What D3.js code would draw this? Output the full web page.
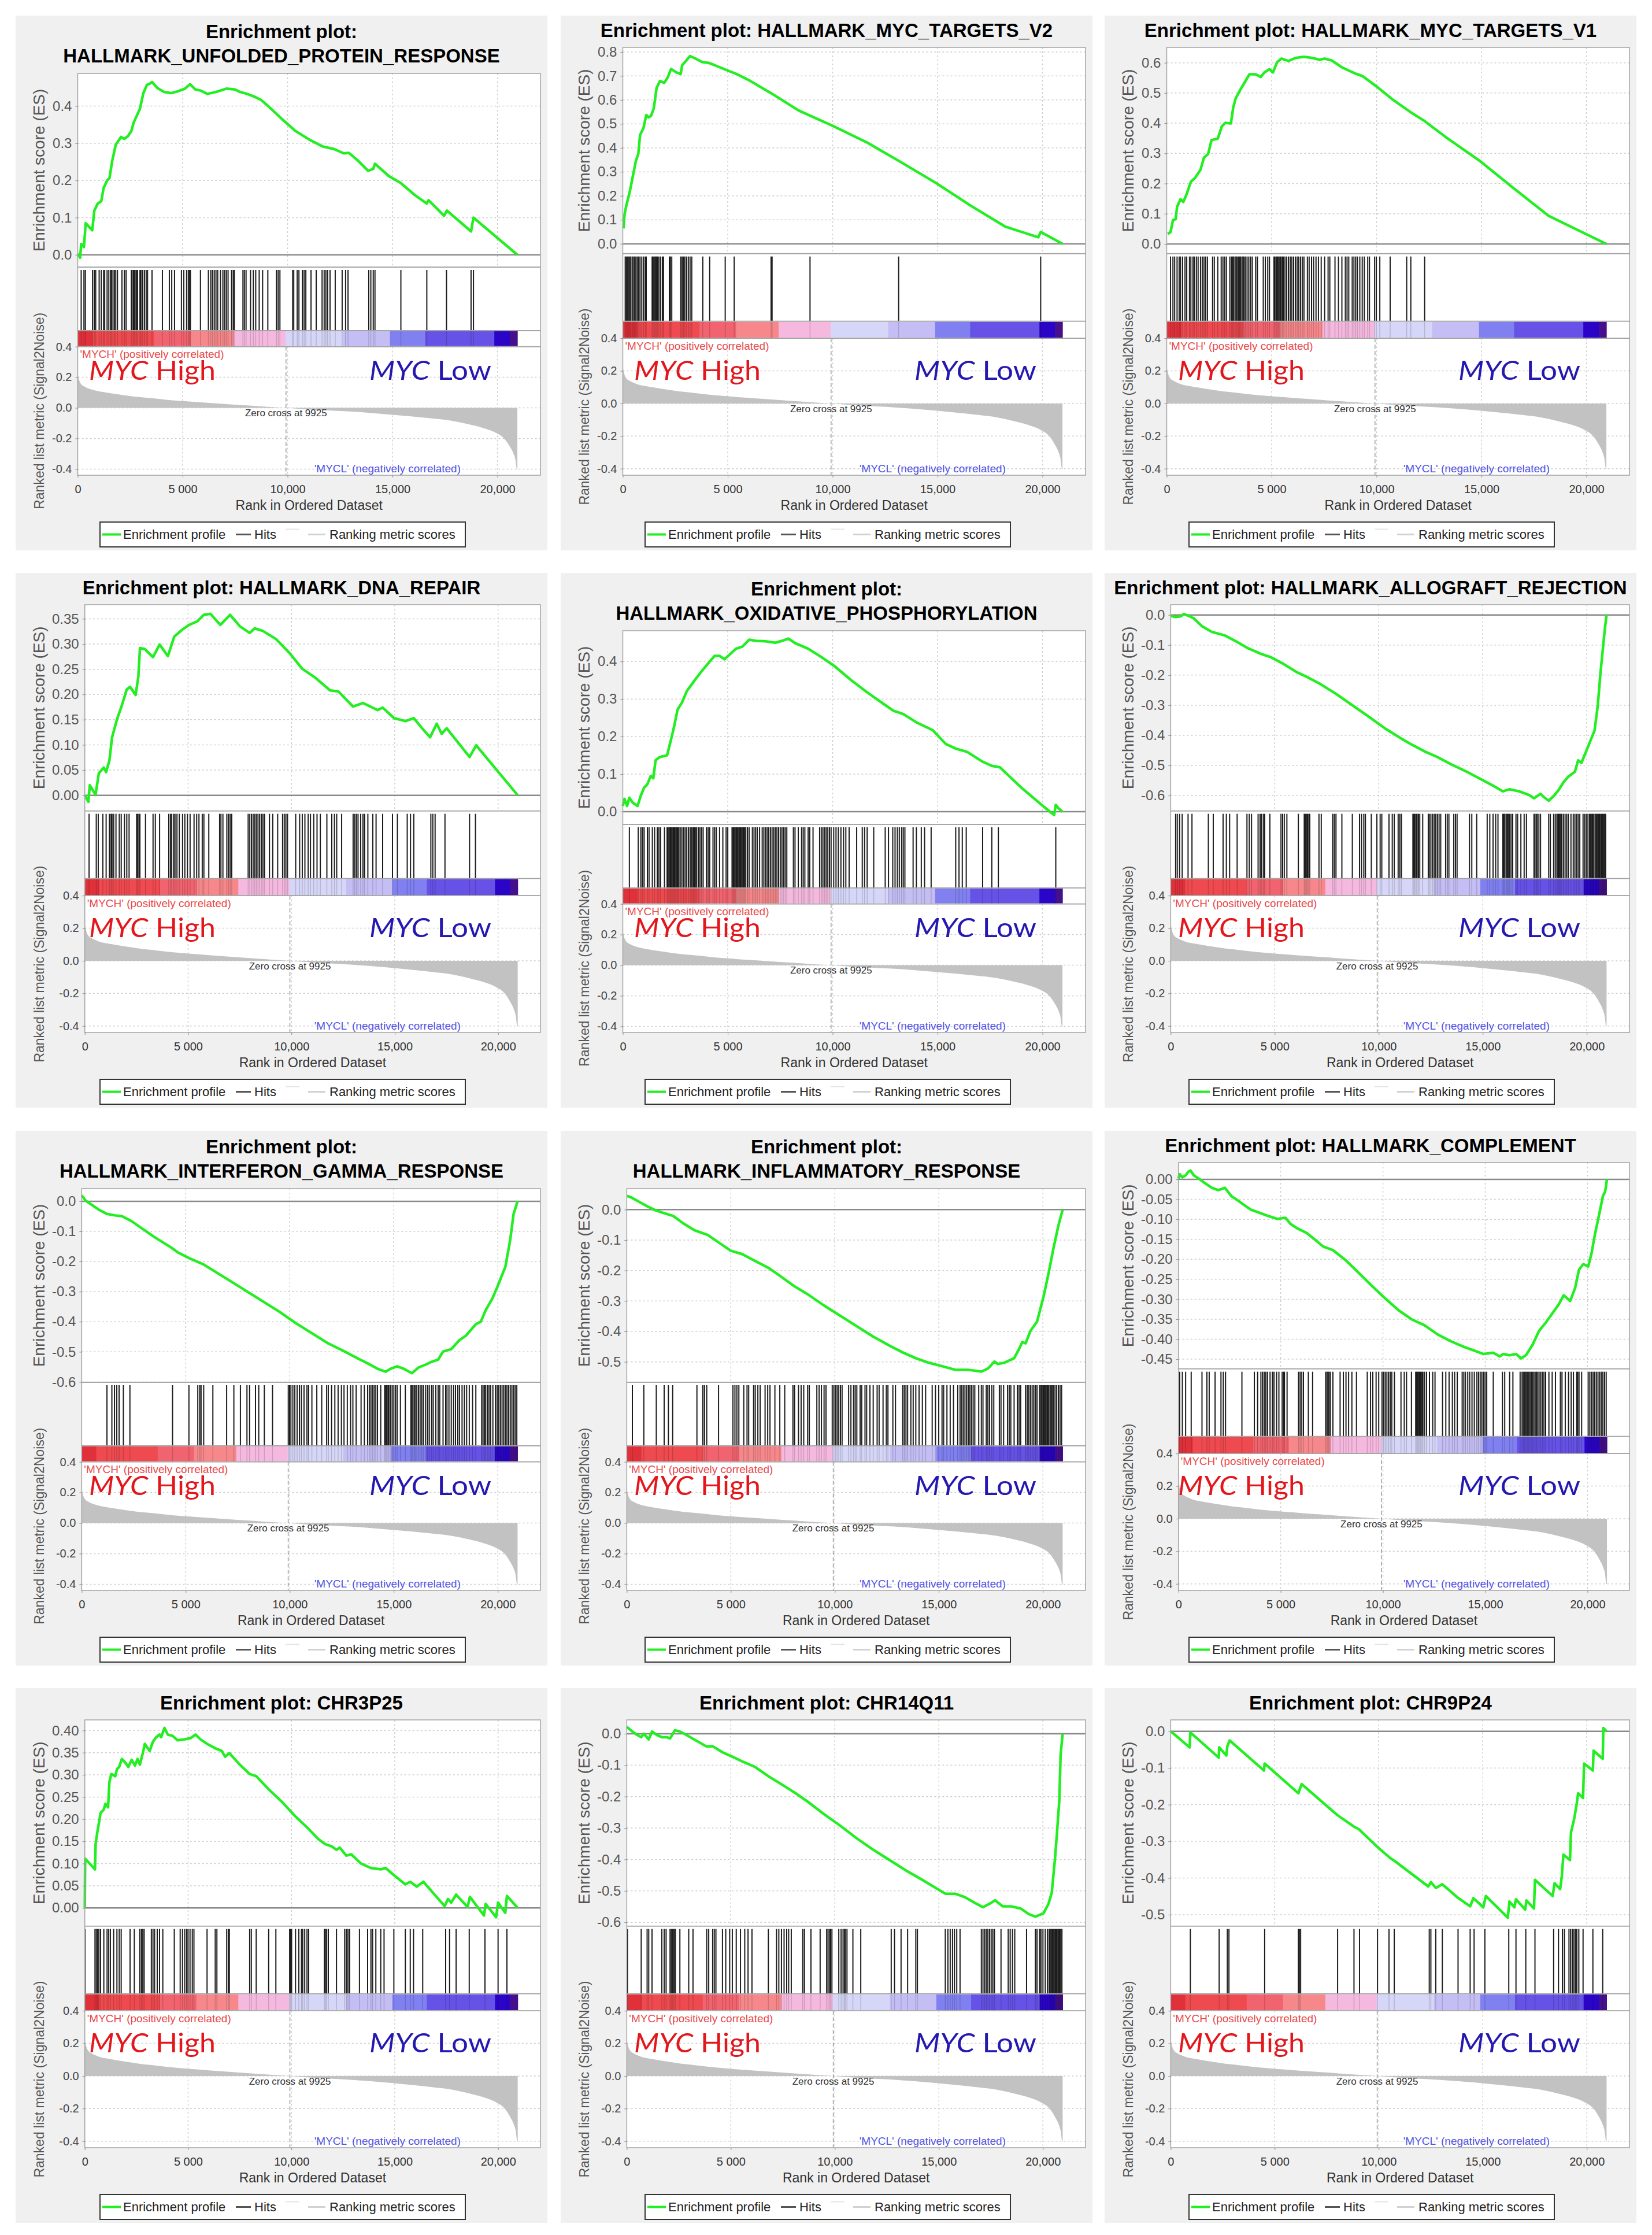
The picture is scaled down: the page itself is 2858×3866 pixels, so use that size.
<!DOCTYPE html>
<html><head><meta charset="utf-8">
<script src="https://cdn.jsdelivr.net/npm/d3@7"></script>
<style>body{margin:0;background:#fff}</style>
</head><body>
<svg id="chart" width="2858" height="3866"></svg>
<script>
// ---------- data ----------
const titles = [
  ["Enrichment plot:", "HALLMARK_UNFOLDED_PROTEIN_RESPONSE"],
  ["Enrichment plot: HALLMARK_MYC_TARGETS_V2"],
  ["Enrichment plot: HALLMARK_MYC_TARGETS_V1"],
  ["Enrichment plot: HALLMARK_DNA_REPAIR"],
  ["Enrichment plot:", "HALLMARK_OXIDATIVE_PHOSPHORYLATION"],
  ["Enrichment plot: HALLMARK_ALLOGRAFT_REJECTION"],
  ["Enrichment plot:", "HALLMARK_INTERFERON_GAMMA_RESPONSE"],
  ["Enrichment plot:", "HALLMARK_INFLAMMATORY_RESPONSE"],
  ["Enrichment plot: HALLMARK_COMPLEMENT"],
  ["Enrichment plot: CHR3P25"],
  ["Enrichment plot: CHR14Q11"],
  ["Enrichment plot: CHR9P24"]
];
const esTickSteps = [0.1,0.1,0.1,0.05,0.1,0.1,0.1,0.1,0.05,0.05,0.1,0.1];
const esDomains = [[-0.033,0.488],[-0.041,0.819],[-0.032,0.651],[-0.031,0.378],[-0.034,0.482],[-0.651,0.034],
                   [-0.601,0.042],[-0.567,0.069],[-0.474,0.042],[-0.041,0.424],[-0.612,0.044],[-0.531,0.031]];

const xTickValues = [0,5000,10000,15000,20000];
const xTickLabels = ["0","5 000","10,000","15,000","20,000"];
const metricTickValues = [0.4,0.2,0,-0.2,-0.4];
const metricTickLabels = ["0.4","0.2","0.0","-0.2","-0.4"];
const metricDomain = [-0.44,0.4];
const rankEnd = 20950, zeroCross = 9925, xMax = 22050;

const metricRanks  = [0,80,165,330,660,1150,1810,2635,3460,4280,5105,6095,7085,8070,9060,9925,10870,11860,12850,13840,14830,15820,16810,17800,18620,19280,19940,20270,20600,20770,20850,20930,20950];
const metricValues = [0.223,0.177,0.155,0.139,0.12,0.105,0.091,0.075,0.064,0.052,0.043,0.034,0.025,0.016,0.007,0,-0.009,-0.016,-0.023,-0.032,-0.043,-0.055,-0.068,-0.084,-0.107,-0.13,-0.164,-0.193,-0.255,-0.3,-0.334,-0.402,-0.402];

const barStarts = [0,700,3650,5400,7430,9900,12650,14880,16550,19850,20590];
const barColors = ['#e0313b','#ef4a4f','#f1636e','#f6888b','#f5b9df','#d6d6f8','#c4bef5','#8080f1','#6652e6','#2a05c8','#46108c'];

const es1 = [[0,0.003],[115,-0.008],[165,0.029],[296,0.021],[379,0.085],[692,0.066],[791,0.119],[955,0.138],[1120,0.144],[1235,0.18],[1400,0.2],[1515,0.207],[1647,0.254],[1812,0.296],[2059,0.317],[2223,0.312],[2388,0.319],[2553,0.333],[2668,0.356],[2965,0.393],[3129,0.435],[3294,0.457],[3426,0.46],[3541,0.465],[3788,0.449],[4118,0.438],[4447,0.435],[4776,0.44],[5106,0.447],[5353,0.459],[5600,0.445],[5847,0.442],[6176,0.433],[6588,0.438],[7082,0.447],[7494,0.445],[7741,0.438],[8070,0.433],[8400,0.426],[8729,0.417],[9059,0.401],[9717,0.366],[10376,0.333],[11035,0.31],[11694,0.291],[12188,0.285],[12682,0.273],[12929,0.274],[13341,0.254],[13835,0.226],[14082,0.231],[14164,0.245],[14823,0.212],[15399,0.193],[16058,0.161],[16635,0.138],[16717,0.147],[17458,0.105],[17590,0.119],[18743,0.063],[18858,0.1],[20950,0]];
const es2 = [[33,0.064],[82,0.122],[164,0.158],[329,0.216],[493,0.288],[624,0.346],[739,0.375],[822,0.454],[986,0.483],[1117,0.537],[1232,0.527],[1347,0.534],[1479,0.566],[1610,0.65],[1774,0.679],[1972,0.671],[2136,0.693],[2300,0.729],[2547,0.715],[2760,0.708],[2826,0.744],[3040,0.766],[3204,0.783],[3450,0.773],[3779,0.758],[4108,0.754],[4600,0.737],[4929,0.725],[5422,0.708],[6079,0.679],[7065,0.628],[8379,0.556],[10022,0.491],[11665,0.421],[13144,0.346],[14951,0.252],[16594,0.158],[18237,0.071],[19798,0.027],[19913,0.049],[20950,0]];
const es3 = [[49,0.033],[181,0.039],[296,0.079],[427,0.082],[493,0.123],[657,0.148],[789,0.139],[953,0.166],[1150,0.206],[1364,0.22],[1610,0.246],[1774,0.286],[1972,0.298],[2136,0.344],[2432,0.349],[2629,0.39],[2793,0.401],[3056,0.399],[3171,0.453],[3286,0.482],[3500,0.51],[3746,0.539],[3943,0.562],[4239,0.562],[4485,0.553],[4650,0.568],[4896,0.579],[5060,0.568],[5258,0.602],[5471,0.614],[5800,0.606],[6128,0.616],[6539,0.62],[6950,0.616],[7278,0.61],[7525,0.614],[7854,0.608],[8347,0.585],[9004,0.564],[9332,0.556],[9990,0.522],[10811,0.476],[11632,0.436],[12290,0.407],[13275,0.355],[14918,0.275],[16561,0.183],[18204,0.093],[20950,0]];
const es4 = [[0,0],[175,-0.013],[240,0.02],[520,0.001],[680,0.044],[920,0.055],[1030,0.046],[1190,0.069],[1320,0.115],[1560,0.151],[1790,0.178],[2030,0.21],[2190,0.215],[2460,0.199],[2590,0.235],[2670,0.292],[2900,0.29],[3300,0.274],[3620,0.299],[4020,0.276],[4330,0.315],[4730,0.329],[5050,0.338],[5440,0.345],[5760,0.358],[6080,0.36],[6560,0.338],[7030,0.358],[7510,0.335],[7980,0.322],[8220,0.331],[8620,0.326],[9250,0.31],[9890,0.283],[10520,0.251],[11160,0.233],[11870,0.208],[12270,0.206],[12980,0.176],[13460,0.183],[14170,0.169],[14410,0.174],[14970,0.153],[15520,0.147],[15920,0.153],[16320,0.133],[16710,0.115],[17030,0.142],[17270,0.122],[17510,0.133],[18620,0.076],[18940,0.099],[20950,0]];
const es5 = [[0,0.015],[78,0.034],[203,0.015],[313,0.037],[469,0.024],[703,0.015],[860,0.043],[1016,0.064],[1172,0.073],[1329,0.095],[1454,0.089],[1563,0.137],[1719,0.144],[1876,0.147],[2110,0.15],[2298,0.192],[2454,0.229],[2610,0.272],[2813,0.29],[3048,0.321],[3282,0.339],[3517,0.357],[3829,0.379],[4142,0.4],[4376,0.415],[4611,0.415],[4845,0.406],[5080,0.418],[5392,0.434],[5705,0.44],[6018,0.458],[6330,0.455],[6799,0.454],[7268,0.45],[7581,0.455],[7893,0.461],[8206,0.449],[8831,0.434],[9456,0.412],[10081,0.388],[10863,0.351],[11644,0.318],[12270,0.293],[12895,0.269],[13364,0.26],[13989,0.238],[14770,0.217],[15395,0.18],[15864,0.168],[16411,0.159],[17115,0.134],[17584,0.122],[17974,0.118],[18990,0.064],[20084,0.012],[20553,-0.009],[20631,0.018],[20756,0.009],[20950,0]];
const es6 = [[0,-0.003],[236,-0.007],[472,-0.005],[629,0.003],[865,-0.003],[1101,-0.011],[1494,-0.037],[1966,-0.056],[2595,-0.068],[3225,-0.091],[3697,-0.11],[4326,-0.129],[4798,-0.14],[5427,-0.163],[6056,-0.19],[6528,-0.205],[7157,-0.228],[7944,-0.262],[8730,-0.3],[9517,-0.338],[10303,-0.377],[11090,-0.411],[11562,-0.43],[12191,-0.453],[12820,-0.472],[13449,-0.495],[14236,-0.521],[14865,-0.544],[15494,-0.567],[15966,-0.586],[16281,-0.579],[16753,-0.586],[17225,-0.598],[17461,-0.609],[17776,-0.594],[17933,-0.605],[18169,-0.617],[18405,-0.602],[18641,-0.582],[18877,-0.556],[19113,-0.537],[19428,-0.521],[19585,-0.483],[19743,-0.491],[20057,-0.438],[20372,-0.384],[20529,-0.3],[20655,-0.194],[20765,-0.117],[20876,-0.041],[20950,0]];
const es7 = [[0,0.02],[189,0.002],[504,-0.013],[820,-0.028],[1213,-0.042],[1607,-0.047],[1923,-0.049],[2396,-0.066],[2868,-0.089],[3499,-0.119],[4287,-0.153],[4602,-0.169],[5232,-0.191],[5863,-0.21],[6493,-0.237],[7123,-0.264],[7911,-0.298],[8699,-0.332],[9487,-0.366],[10275,-0.404],[11063,-0.438],[11851,-0.472],[12639,-0.499],[13270,-0.522],[13743,-0.538],[14215,-0.556],[14609,-0.566],[14846,-0.556],[15161,-0.548],[15476,-0.556],[15870,-0.571],[16186,-0.552],[16580,-0.541],[16816,-0.533],[17131,-0.526],[17368,-0.499],[17762,-0.491],[18156,-0.461],[18471,-0.446],[18944,-0.408],[19180,-0.4],[19417,-0.362],[19732,-0.324],[19968,-0.286],[20362,-0.218],[20599,-0.127],[20756,-0.043],[20950,0]];
const es8 = [[0,0.045],[189,0.041],[583,0.026],[977,0.011],[1370,-0.002],[1764,-0.011],[2237,-0.021],[2709,-0.045],[3260,-0.068],[3890,-0.083],[4442,-0.109],[4993,-0.135],[5544,-0.146],[6174,-0.169],[6804,-0.191],[7434,-0.221],[8064,-0.252],[8694,-0.278],[9482,-0.315],[10269,-0.349],[11057,-0.383],[11844,-0.417],[12632,-0.447],[13262,-0.469],[13892,-0.488],[14522,-0.503],[15152,-0.514],[15782,-0.526],[16412,-0.526],[17042,-0.532],[17357,-0.522],[17672,-0.499],[17829,-0.507],[18144,-0.503],[18617,-0.488],[18853,-0.458],[19010,-0.435],[19168,-0.439],[19404,-0.398],[19719,-0.368],[20034,-0.285],[20270,-0.21],[20506,-0.128],[20743,-0.053],[20950,0]];
const es9 = [[0,0.002],[64,0.013],[192,0.005],[352,0.01],[480,0.019],[592,0.022],[752,0.01],[992,0.002],[1312,-0.01],[1632,-0.021],[1952,-0.027],[2272,-0.021],[2592,-0.042],[2912,-0.053],[3232,-0.065],[3552,-0.076],[3872,-0.082],[4352,-0.091],[4832,-0.099],[5232,-0.096],[5472,-0.111],[5792,-0.122],[6272,-0.134],[6752,-0.154],[7072,-0.168],[7552,-0.177],[8192,-0.203],[8832,-0.235],[9472,-0.267],[10112,-0.298],[10752,-0.327],[11392,-0.35],[12032,-0.365],[12672,-0.388],[13312,-0.405],[13952,-0.419],[14592,-0.431],[14912,-0.437],[15392,-0.434],[15712,-0.443],[15872,-0.437],[16192,-0.44],[16512,-0.437],[16752,-0.448],[16992,-0.44],[17312,-0.414],[17632,-0.379],[17952,-0.359],[18272,-0.336],[18592,-0.313],[18832,-0.29],[19152,-0.304],[19392,-0.272],[19584,-0.226],[19792,-0.212],[20032,-0.218],[20192,-0.186],[20352,-0.14],[20592,-0.082],[20752,-0.042],[20864,-0.03],[20950,0]];
const es10 = [[0,0],[16,0.111],[492,0.087],[523,0.144],[603,0.17],[682,0.191],[761,0.214],[920,0.222],[999,0.235],[1126,0.227],[1190,0.284],[1285,0.302],[1475,0.297],[1554,0.313],[1665,0.318],[1792,0.336],[1951,0.328],[2109,0.318],[2268,0.334],[2427,0.321],[2553,0.336],[2664,0.323],[2823,0.352],[2902,0.37],[3140,0.354],[3299,0.375],[3457,0.385],[3616,0.391],[3695,0.385],[3854,0.406],[4012,0.391],[4250,0.388],[4488,0.378],[4806,0.38],[5123,0.383],[5361,0.391],[5599,0.38],[5916,0.37],[6312,0.36],[6629,0.354],[6788,0.341],[6994,0.349],[7502,0.323],[7978,0.302],[8295,0.297],[8929,0.266],[9564,0.238],[10198,0.206],[10832,0.178],[11308,0.155],[11625,0.144],[11943,0.139],[12181,0.131],[12339,0.136],[12656,0.118],[12894,0.121],[13370,0.1],[13846,0.09],[14322,0.087],[14560,0.09],[14956,0.074],[15511,0.053],[15749,0.059],[16066,0.048],[16383,0.059],[17414,0.004],[17573,0.02],[17731,0.012],[17969,0.03],[18524,0.002],[18636,0.025],[19317,-0.017],[19397,0.009],[19904,-0.021],[19999,0.012],[20348,-0.011],[20428,0.027],[20950,0]];
const es11 = [[0,0.022],[268,0.007],[504,-0.004],[693,-0.011],[819,0],[1055,-0.018],[1213,0.007],[1449,-0.004],[1685,-0.011],[1922,-0.011],[2079,-0.015],[2315,0.011],[2552,0.007],[2867,-0.004],[3339,-0.022],[3812,-0.04],[4127,-0.04],[4599,-0.059],[5072,-0.073],[5544,-0.088],[6174,-0.106],[6804,-0.135],[7434,-0.161],[8064,-0.187],[8694,-0.216],[9482,-0.256],[10269,-0.293],[11057,-0.333],[11844,-0.369],[12632,-0.402],[13419,-0.435],[14207,-0.465],[14837,-0.49],[15309,-0.509],[15782,-0.509],[16254,-0.52],[16727,-0.538],[17120,-0.552],[17435,-0.541],[17703,-0.53],[18066,-0.549],[18459,-0.549],[18932,-0.556],[19325,-0.574],[19640,-0.582],[20034,-0.571],[20270,-0.541],[20428,-0.505],[20585,-0.395],[20695,-0.3],[20790,-0.212],[20853,-0.066],[20950,0]];
const es12 = [[0,0],[912,-0.044],[944,-0.003],[2312,-0.072],[2328,-0.044],[2674,-0.066],[2721,-0.041],[2832,-0.025],[4483,-0.107],[4515,-0.088],[6135,-0.169],[6292,-0.144],[8022,-0.229],[8809,-0.26],[9045,-0.267],[9910,-0.314],[10539,-0.345],[10775,-0.354],[12380,-0.423],[12505,-0.411],[12741,-0.427],[13056,-0.417],[13764,-0.452],[14393,-0.477],[14550,-0.455],[14786,-0.467],[15022,-0.48],[15148,-0.449],[16202,-0.508],[16281,-0.464],[16517,-0.48],[16596,-0.458],[17036,-0.486],[17099,-0.461],[17461,-0.483],[17508,-0.405],[18358,-0.449],[18452,-0.414],[18719,-0.43],[18798,-0.395],[18876,-0.336],[19191,-0.351],[19239,-0.276],[19396,-0.238],[19506,-0.201],[19584,-0.169],[19820,-0.182],[19867,-0.088],[20292,-0.107],[20324,-0.053],[20764,-0.075],[20796,0.009],[20950,0]];

const hits1 = [165,296,362,708,791,856,1021,1120,1235,1285,1400,1482,1565,1614,1680,1746,1812,1894,2108,2223,2306,2553,2635,2685,2734,2800,2849,2965,3014,3096,3179,3261,3327,3541,4035,4365,4480,4612,4941,5056,5188,5270,5320,5369,5847,6226,6341,6423,6506,6588,6670,6802,6917,7000,7082,7164,7329,7412,7461,7873,7939,8021,8235,8367,8482,8647,8811,9059,9470,9553,9635,10244,10294,10458,10541,10706,10788,10870,11117,11364,11644,11743,11825,11908,12023,12270,12600,12764,12880,13868,13967,14082,14164,15399,16635,17573,18743,18858];
const hits2 = [115,164,214,279,329,378,444,493,559,624,690,756,822,904,986,1068,1117,1397,1446,1512,1561,1610,1659,1725,1807,1889,1939,2218,2267,2333,2760,2826,2892,2957,3040,3122,3204,3286,3812,4140,4880,5307,7065,7114,8921,13144,19913];
const hits3 = [181,296,378,493,591,657,756,871,953,1084,1150,1249,1314,1413,1495,1610,1692,1774,1857,1939,2185,2267,2432,2596,2678,2760,2842,3007,3089,3138,3187,3253,3302,3352,3417,3467,3516,3582,3631,3680,3746,3828,3910,3992,4075,4239,4321,4600,4699,4814,4896,5110,5159,5225,5274,5323,5389,5438,5504,5553,5635,5718,5800,5882,5964,6046,6128,6211,6293,6375,6457,6539,6703,6786,6901,6999,7114,7229,7361,7525,7689,7771,8018,8182,8347,8511,8593,8675,8839,8921,9004,9086,9201,9316,9414,9578,9661,9907,9990,10154,10647,11435,11632,12290];
const hits4 = [206,555,650,873,1032,1190,1270,1317,1397,1508,1667,1762,1920,2032,2143,2508,2556,2619,2667,2937,3302,3413,3619,4063,4143,4206,4302,4365,4460,4571,4730,4841,4968,5095,5286,5413,5524,5683,5762,6000,6524,6587,6683,6873,6952,7032,7111,7905,7984,8063,8143,8222,8301,8381,8460,8540,8619,8698,8937,9095,9333,9571,9651,9730,9809,10206,10397,10524,10651,10810,10921,11079,11238,11397,11714,11952,12079,12190,12429,12984,13063,13143,13222,13349,13460,13540,13698,13937,14095,14413,14889,15127,15603,15762,15921,16746,16841,16952,17429,18619,18905];
const hits5 = [313,735,860,938,1016,1172,1250,1407,1516,1641,1719,1797,1985,2110,2157,2204,2251,2298,2345,2391,2438,2485,2532,2579,2626,2673,2735,2813,2892,2970,3048,3126,3204,3251,3298,3360,3407,3454,3517,3595,3673,3751,3829,3986,4064,4142,4298,4376,4455,4611,4767,4923,5002,5205,5252,5299,5345,5392,5439,5486,5533,5580,5627,5674,5721,5767,5814,5861,5939,6018,6174,6252,6330,6408,6518,6643,6721,6799,6877,6955,7034,7112,7190,7268,7346,7424,7502,7581,7659,7737,7815,8128,8206,8362,8518,8597,8675,8831,8909,9065,9378,9456,9534,9612,9691,9769,9847,9925,10050,10160,10269,10394,10519,10628,10785,11144,11410,11519,11644,11957,12504,12660,12864,12973,13082,13176,13286,13364,13442,13833,13989,14223,14380,14692,15864,16021,16177,16365,17146,17584,17896,20632];
const hits6 = [236,315,425,551,834,1022,1809,2045,2517,2674,2832,3193,3665,3775,3885,4200,4294,4357,4452,4515,4766,5301,5380,5459,5584,6135,6418,6465,6528,6575,6638,6685,7126,7236,7786,7865,7944,8227,8730,9076,9171,9281,9359,9642,9910,10067,10146,10492,10649,10744,10932,11011,11090,11640,11687,11735,11798,11844,11908,11971,12112,12380,12427,12505,12584,12663,12742,12820,12899,12978,13213,13292,13371,13606,13685,13764,14361,14472,14708,15211,15337,15494,15620,15730,15966,16013,16060,16123,16170,16218,16281,16359,16438,16595,16674,16831,16988,17098,17461,17508,17571,17618,17697,17776,18169,18248,18405,18484,18562,18609,18656,18703,18750,18798,18876,18955,19033,19112,19238,19348,19427,19505,19584,19663,19820,19898,19977,20056,20134,20182,20245,20292,20339,20402,20449,20496,20559,20606,20654,20717,20764,20811,20858,20905];
const hits7 = [1214,1450,1576,1686,1797,2002,2317,4366,5154,5579,5674,5737,5863,6304,6966,7313,7628,7943,8069,8353,8510,8778,9172,9929,9992,10055,10149,10244,10354,10465,10559,10685,10827,10906,11064,11300,11536,11773,11852,12009,12167,12324,12482,12608,12766,12923,13034,13191,13428,13585,13743,13822,13900,13979,14058,14137,14216,14373,14562,14610,14657,14720,14767,14846,14925,15004,15082,15161,15319,15555,15823,15870,15918,15981,16028,16107,16186,16264,16343,16422,16532,16627,16706,16816,16895,17021,17131,17210,17368,17494,17557,17651,17762,17872,17966,18077,18156,18282,18392,18502,18629,18786,18944,19227,19290,19353,19416,19495,19574,19653,19763,19889,19968,20047,20126,20204,20283,20362,20441,20519,20598,20677,20756,20835,20914];
const hits8 = [268,819,1418,1796,2000,2205,3371,3654,3733,3843,4410,5103,5198,5292,5387,5623,5780,5859,6095,6174,6300,6410,6647,6773,6883,7119,7355,7592,7985,8064,8253,8379,8505,8694,8773,9135,9245,9356,9482,9576,9875,9954,10033,10112,10190,10269,10348,10663,10773,10899,10978,11057,11214,11293,11450,11529,11687,11844,12033,12128,12317,12474,12553,12789,12915,13262,13340,13419,13498,13655,13766,13892,14049,14207,14364,14679,14837,14994,15152,15230,15388,15545,15703,15908,16018,16097,16175,16254,16333,16412,16490,16569,16648,16727,16916,17042,17120,17278,17357,17435,17546,17640,17908,17987,18113,18302,18380,18459,18617,18774,18853,18932,19168,19247,19325,19404,19483,19562,19640,19719,19845,19908,19955,20003,20034,20081,20129,20192,20239,20286,20349,20396,20444,20507,20585,20664,20743,20822,20900];
const hits9 = [64,192,352,624,1152,1392,1504,1792,2080,2192,2304,3104,3712,3872,4032,4112,4192,4272,4352,4480,4592,4672,4800,4912,5072,5152,5184,5312,5872,5952,6032,6112,6352,6560,7200,7264,7312,7360,7424,7552,7904,8064,8192,8320,8480,8704,9232,9392,9504,9664,9792,9952,10032,10112,10192,10272,10352,10432,10560,10880,11040,11152,11392,11600,11648,11696,11744,11792,11840,11904,11952,12032,12128,12272,12432,12544,12912,13072,13232,13392,13504,13632,13872,13952,14032,14144,14240,14352,14464,14592,14672,14752,14832,14912,14992,15072,15392,15840,15952,16192,16352,16704,16800,16864,16928,16992,17056,17120,17184,17248,17312,17376,17440,17504,17568,17632,17712,17792,17872,17952,18112,18272,18432,18672,18752,18912,19072,19200,19312,19472,19520,19584,19712,20032,20112,20192,20272,20352,20432,20512,20592,20672,20752,20832,20912];
const hits10 = [15,492,555,618,682,761,920,1078,1158,1237,1396,1554,1665,1760,2189,2395,2664,2744,2807,2871,3220,3299,3378,3505,3616,3775,4330,4615,4726,4837,4932,4996,5091,5202,5281,5916,6312,6392,6867,6947,6994,7978,8057,8295,8897,9246,9912,9960,10008,10198,10357,10484,10547,10642,10753,10832,11594,11657,11705,11784,12180,12577,12656,12736,12815,13291,13687,13846,13926,14084,14322,14481,14956,15511,15749,15908,16352,17462,17652,17969,18603,19365,19999,20428];
const hits11 = [32,693,977,1055,1213,1685,1796,1890,2079,2142,2205,2268,2331,2552,2977,3182,3843,3938,4127,4205,4284,4599,4757,4946,5072,5261,5465,5670,5828,6017,6804,7198,7308,7434,7560,7686,7781,7906,8458,8537,8852,9293,9608,9671,9734,9797,9860,10190,10301,10395,10458,10505,10584,10868,11246,12710,12868,13183,13498,13892,13970,15309,15435,15545,15656,15750,15860,16018,17042,17120,17199,17278,17357,17435,17514,17593,17672,17987,18333,18428,18538,18648,19215,19640,19719,19845,19908,20003,20113,20223,20302,20349,20396,20444,20491,20538,20585,20633,20680,20727,20774,20822,20869,20916];
const hits12 = [944,2328,2721,2800,4515,6135,6182,6245,8022,8809,9076,9941,10492,10744,12427,12505,12741,13056,13811,14393,14582,15101,16249,16595,17067,17508,18405,18640,18829,18923,19143,19222,19301,19380,19458,19521,19616,19820,20292,20764];

const esCurves = [es1,es2,es3,es4,es5,es6,es7,es8,es9,es10,es11,es12];
const hitSets = [hits1,hits2,hits3,hits4,hits5,hits6,hits7,hits8,hits9,hits10,hits11,hits12];

// ---------- drawing ----------
const svg = d3.select('#chart');
const FONT = "'Liberation Sans', Arial, Helvetica, sans-serif";
const colX = [27, 970, 1911], rowY = [27, 991, 1956, 2920];
const PW = 920, PH = 925;

function measure(str, size, weight) {
  const t = svg.append('text').attr('font-family', FONT).attr('font-size', size)
    .attr('font-weight', weight || 'normal').text(str);
  const w = t.node().getComputedTextLength(); t.remove(); return w;
}

titles.forEach((tl, i) => {
  const g = svg.append('g').attr('transform', `translate(${colX[i % 3]},${rowY[Math.floor(i / 3)]})`);
  g.append('rect').attr('width', PW).attr('height', PH).attr('fill', '#f0f0f0');

  const tys = tl.length === 2 ? [39, 81] : [37];
  tl.forEach((s, k) => g.append('text').attr('x', PW / 2).attr('y', tys[k]).attr('text-anchor', 'middle')
    .attr('font-family', FONT).attr('font-weight', 'bold').attr('font-size', 33).attr('fill', '#000').text(s));

  const top = tl.length === 2 ? 100 : 55, bottom = 795, H = bottom - top;
  const esB = top + H * 0.482, hitsB = esB + H * 0.158, barB = hitsB + H * 0.040;

  const step = esTickSteps[i], dom = esDomains[i];
  const dec = step < 0.1 ? 2 : 1;
  const fmt = v => (Math.abs(v) < 1e-9 ? 0 : v).toFixed(dec);
  const esTicks = [];
  for (let k = Math.ceil(dom[0] / step - 1e-6); k * step <= dom[1] + 1e-9; k++) esTicks.push(+(k * step).toFixed(4));
  const maxW = Math.max(...esTicks.map(v => measure(fmt(v), 24)), ...metricTickLabels.map(s => measure(s, 20)));
  const L = 73 + maxW, R = 908;

  const x = d3.scaleLinear().domain([0, xMax]).range([L, R]);
  const yE = d3.scaleLinear().domain(dom).range([esB, top]);
  const yM = d3.scaleLinear().domain(metricDomain).range([bottom, barB]);
  const boxes = [[top, esB], [esB, hitsB], [hitsB, barB], [barB, bottom]];
  boxes.forEach(([a, b]) => g.append('rect').attr('x', L).attr('y', a).attr('width', R - L).attr('height', b - a).attr('fill', '#fff'));

  // grid
  const grid = g.append('g').attr('stroke', '#cdcdcd').attr('stroke-width', 1.5).attr('stroke-dasharray', '3,4');
  xTickValues.slice(1).forEach(v => {
    grid.append('line').attr('x1', x(v)).attr('x2', x(v)).attr('y1', top).attr('y2', esB);
    grid.append('line').attr('x1', x(v)).attr('x2', x(v)).attr('y1', barB).attr('y2', bottom);
  });
  esTicks.forEach(v => { if (v !== 0) grid.append('line').attr('x1', L).attr('x2', R).attr('y1', yE(v)).attr('y2', yE(v)); });
  metricTickValues.slice(1).forEach(v => grid.append('line').attr('x1', L).attr('x2', R).attr('y1', yM(v)).attr('y2', yM(v)));

  // ES zero line
  g.append('line').attr('x1', L).attr('x2', R).attr('y1', yE(0)).attr('y2', yE(0)).attr('stroke', '#8a8a8a').attr('stroke-width', 2.5);

  // ranked metric area
  const mPts = metricRanks.map((r, k) => [r, metricValues[k]]);
  g.append('path').datum(mPts)
    .attr('d', d3.area().x(d => x(d[0])).y0(yM(0)).y1(d => yM(d[1])).curve(d3.curveMonotoneX))
    .attr('fill', '#c2c2c2');
  g.append('line').attr('x1', x(zeroCross)).attr('x2', x(zeroCross)).attr('y1', barB).attr('y2', bottom)
    .attr('stroke', '#999').attr('stroke-width', 1.5).attr('stroke-dasharray', '7,4');

  // colour bar
  barStarts.forEach((s, k) => {
    const e = k < barStarts.length - 1 ? barStarts[k + 1] : rankEnd;
    g.append('rect').attr('x', x(s)).attr('y', hitsB + 1).attr('width', x(e) - x(s) + 0.6)
      .attr('height', barB - hitsB - 2).attr('fill', barColors[k]);
  });

  // hits
  const hits = hitSets[i];
  g.append('g').selectAll('line').data(hits).join('line')
    .attr('x1', d => x(d)).attr('x2', d => x(d)).attr('y1', esB + 5).attr('y2', hitsB)
    .attr('stroke', '#1c1c1c').attr('stroke-width', 2);
  g.append('g').selectAll('line').data(hits).join('line')
    .attr('x1', d => x(d)).attr('x2', d => x(d)).attr('y1', hitsB).attr('y2', barB)
    .attr('stroke', '#000').attr('stroke-opacity', 0.16).attr('stroke-width', 1.5);

  // ES curve
  g.append('path').datum(esCurves[i])
    .attr('d', d3.line().x(d => x(d[0])).y(d => yE(d[1])))
    .attr('fill', 'none').attr('stroke', '#22ee22').attr('stroke-width', 4.5).attr('stroke-linejoin', 'round');

  // frames
  boxes.forEach(([a, b]) => g.append('rect').attr('x', L).attr('y', a).attr('width', R - L).attr('height', b - a)
    .attr('fill', 'none').attr('stroke', '#a3a3a3').attr('stroke-width', 1.5));

  // axes
  const styleAxis = (sel, size, color) => {
    sel.select('.domain').remove();
    sel.selectAll('line').attr('stroke', '#888');
    sel.selectAll('text').attr('font-family', FONT).attr('font-size', size).attr('fill', color);
  };
  g.append('g').attr('transform', `translate(${L},0)`)
    .call(d3.axisLeft(yE).tickValues(esTicks).tickFormat(fmt).tickSize(4).tickPadding(6))
    .call(s => styleAxis(s, 24, '#555'));
  g.append('g').attr('transform', `translate(${L},0)`)
    .call(d3.axisLeft(yM).tickValues(metricTickValues).tickFormat((d, k) => metricTickLabels[k]).tickSize(4).tickPadding(6))
    .call(s => styleAxis(s, 20, '#444'));
  g.append('g').attr('transform', `translate(0,${bottom})`)
    .call(d3.axisBottom(x).tickValues(xTickValues).tickFormat((d, k) => xTickLabels[k]).tickSize(4).tickPadding(13))
    .call(s => styleAxis(s, 20, '#333'));

  // axis titles
  g.append('text').attr('transform', `translate(40,${(top + esB) / 2}) rotate(-90)`).attr('text-anchor', 'middle')
    .attr('dy', '0.35em').attr('font-family', FONT).attr('font-size', 28).attr('fill', '#555').text('Enrichment score (ES)');
  g.append('text').attr('transform', `translate(41,${(barB + bottom) / 2}) rotate(-90)`).attr('text-anchor', 'middle')
    .attr('dy', '0.35em').attr('font-family', FONT).attr('font-size', 23).attr('fill', '#555').text('Ranked list metric (Signal2Noise)');
  g.append('text').attr('x', (L + R) / 2).attr('y', 847).attr('dy', '0.35em').attr('text-anchor', 'middle')
    .attr('font-family', FONT).attr('font-size', 23).attr('fill', '#333').text('Rank in Ordered Dataset');

  // annotations
  g.append('text').attr('x', L + 4).attr('y', barB + 13).attr('dy', '0.35em').attr('font-family', FONT)
    .attr('font-size', 19).attr('fill', '#e84848').text("'MYCH' (positively correlated)");
  g.append('text').attr('x', 770).attr('y', 783).attr('dy', '0.35em').attr('text-anchor', 'end').attr('font-family', FONT)
    .attr('font-size', 19).attr('fill', '#5252e6').text("'MYCL' (negatively correlated)");
  g.append('text').attr('x', x(zeroCross)).attr('y', yM(0) + 9).attr('dy', '0.35em').attr('text-anchor', 'middle')
    .attr('font-family', FONT).attr('font-size', 17).attr('fill', '#333').text('Zero cross at 9925');

  // MYC High / MYC Low overlays
  const bigLabel = (xx, word, color, targetW) => {
    const t = g.append('text').attr('font-family', 'Lato, Carlito, sans-serif').attr('font-size', 47).attr('fill', color);
    t.append('tspan').attr('font-style', 'italic').text('MYC');
    t.append('tspan').text(' ' + word);
    const w = t.node().getComputedTextLength();
    t.attr('transform', `translate(${xx},630) scale(${targetW / w},1)`);
  };
  bigLabel(127, 'High', '#e3161c', 219);
  bigLabel(612, 'Low', '#2418b0', 211);

  // legend
  const lg = g.append('g');
  lg.append('rect').attr('x', 146).attr('y', 876).attr('width', 632).attr('height', 43)
    .attr('fill', '#fff').attr('stroke', '#333').attr('stroke-width', 2);
  const ly = 897.5;
  lg.append('line').attr('x1', 150).attr('x2', 182).attr('y1', ly).attr('y2', ly).attr('stroke', '#22ee22').attr('stroke-width', 4);
  lg.append('line').attr('x1', 381).attr('x2', 407).attr('y1', ly).attr('y2', ly).attr('stroke', '#555').attr('stroke-width', 3);
  lg.append('line').attr('x1', 467).attr('x2', 491).attr('y1', ly - 9).attr('y2', ly - 9).attr('stroke', '#e4e4e4').attr('stroke-width', 2);
  lg.append('line').attr('x1', 506).attr('x2', 536).attr('y1', ly).attr('y2', ly).attr('stroke', '#d2d2d2').attr('stroke-width', 3);
  [['Enrichment profile', 186], ['Hits', 413], ['Ranking metric scores', 543]].forEach(([s, xx]) =>
    lg.append('text').attr('x', xx).attr('y', ly).attr('dy', '0.35em').attr('font-family', FONT)
      .attr('font-size', 22).attr('fill', '#222').text(s));
});
</script>
</body></html>
